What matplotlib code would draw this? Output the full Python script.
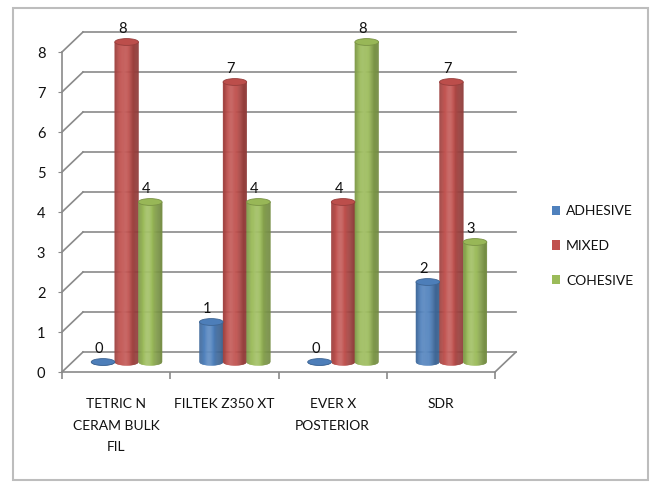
import numpy as np
import matplotlib
matplotlib.use('Agg')
import matplotlib.pyplot as plt
from matplotlib.patches import Polygon, Ellipse, Rectangle, Patch
from matplotlib.colors import to_rgb

# data
categories = ['TETRIC N\nCERAM BULK\nFIL', 'FILTEK Z350 XT', 'EVER X\nPOSTERIOR', 'SDR']
series = ['ADHESIVE', 'MIXED', 'COHESIVE']
adhesive = [0, 1, 0, 2]
mixed = [8, 7, 4, 7]
cohesive = [4, 4, 8, 3]
values = [adhesive, mixed, cohesive]
colors = ['#4F81BD', '#C0504D', '#9BBB59']
yticks = [0, 1, 2, 3, 4, 5, 6, 7, 8]

plt.rcParams['font.family'] = ['Lato', 'DejaVu Sans']
txt_c = '#111111'

fig = plt.figure(figsize=(6.51, 4.83), dpi=100)
ax = fig.add_axes([62 / 651, 1 - 372 / 483, 433 / 651, 320 / 483])
ax.set_xlim(0, 4)
ax.set_ylim(0, 8)

dx, dy = 0.194, 0.5      # depth of the fake 3d box
grid_c = '#8a8a8a'

# side wall and back wall
for v in yticks:
    ax.plot([0, dx], [v, v + dy], color=grid_c, lw=1.2, clip_on=False)
    ax.plot([dx, 4 + dx], [v + dy, v + dy], color=grid_c, lw=1.2, clip_on=False)
ax.plot([4, 4 + dx], [0, dy], color=grid_c, lw=1.2, clip_on=False)


def shade(c, f):
    c = np.array(to_rgb(c))
    if f >= 1:
        return tuple(c + (1 - c) * (f - 1))
    return tuple(c * f)


def cylinder(xc, base, top, w, h, color):
    n = 26
    edges = np.linspace(xc - w / 2, xc + w / 2, n + 1)
    for k in range(n):
        a, b = edges[k], edges[k + 1]
        t = (k + 0.5) / n
        # dark edges, soft highlight slightly left of centre
        f = 0.74 + 0.36 * np.exp(-((t - 0.4) / 0.32) ** 2)
        col = shade(color, f)
        ea = h / 2 * np.sqrt(max(0.0, 1 - ((a - xc) / (w / 2)) ** 2))
        eb = h / 2 * np.sqrt(max(0.0, 1 - ((b - xc) / (w / 2)) ** 2))
        pts = [(a, top), (a, base - ea), (b, base - eb), (b + 0.001, top)]
        ax.add_patch(Polygon(pts, closed=True, facecolor=col, edgecolor=col,
                             lw=0.3, clip_on=False, zorder=3))
    ax.add_patch(Ellipse((xc, top), w, h, facecolor=shade(color, 0.98),
                         edgecolor=shade(color, 0.78), lw=0.6, clip_on=False, zorder=4))


bw = 0.218
for j, vals in enumerate(values):
    for i, v in enumerate(vals):
        xc = i + 0.5 + (j - 1) * bw + dx / 2
        base = dy / 2
        top = v + dy / 2
        cylinder(xc, base, top, bw, 0.17, colors[j])
        ax.annotate(str(v), (xc, top + 0.085), xytext=(-3, 4), textcoords='offset points',
                    ha='center', va='baseline', fontsize=10.5, color=txt_c,
                    annotation_clip=False, zorder=5)

# axes styling
for s in ['top', 'right']:
    ax.spines[s].set_visible(False)
for s in ['left', 'bottom']:
    ax.spines[s].set_color(grid_c)
    ax.spines[s].set_linewidth(1.2)
ax.patch.set_visible(False)

ax.set_yticks(yticks)
ax.set_yticklabels([str(v) for v in yticks], fontsize=10.5, color=txt_c)
ax.tick_params(axis='y', length=3, color=grid_c, pad=9)

ax.set_xticks([0.5, 1.5, 2.5, 3.5])
ax.set_xticklabels(categories, fontsize=10, color=txt_c)
for lbl in ax.get_xticklabels():
    lbl.set_linespacing(1.95)
ax.tick_params(axis='x', which='major', length=0, pad=19)
ax.set_xticks([0, 1, 2, 3, 4], minor=True)
ax.tick_params(axis='x', which='minor', length=5, color=grid_c, width=1.2)

handles = [Patch(facecolor=c, edgecolor='none') for c in colors]
fig.legend(handles, series, loc='center left', bbox_to_anchor=(539 / 651, 1 - 246 / 483),
           frameon=False, fontsize=10, handlelength=0.6, handleheight=0.65,
           handletextpad=0.45, labelspacing=1.63, labelcolor=txt_c)

fig.add_artist(Rectangle((13 / 651, 1 - 480 / 483), 635 / 651, 472 / 483,
                         transform=fig.transFigure, fill=False,
                         edgecolor='#bdbdbd', lw=1.5))

fig.savefig('out.png', dpi=100)
